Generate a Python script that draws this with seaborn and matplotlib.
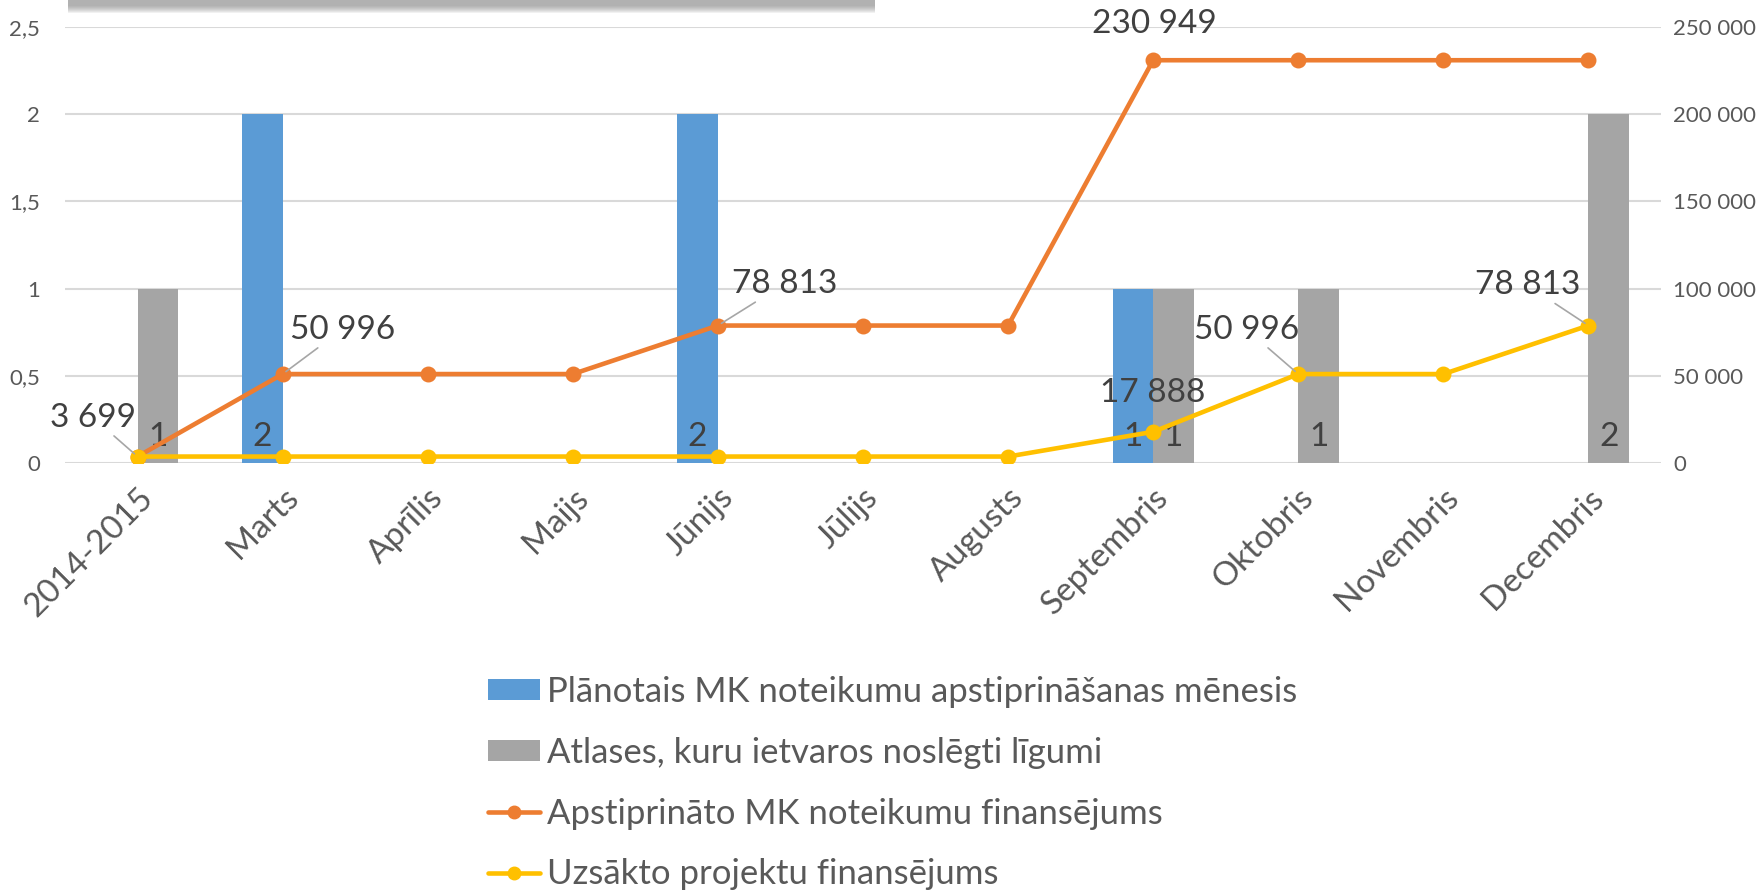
import numpy as np
import pandas as pd
import matplotlib
matplotlib.use("Agg")
import matplotlib.pyplot as plt
import seaborn as sns
from matplotlib.patches import Patch, Rectangle
from matplotlib.lines import Line2D
from matplotlib.ticker import FuncFormatter

# ---------------- data ----------------
categories = ["2014-2015", "Marts", "Aprīlis", "Maijs", "Jūnijs", "Jūlijs",
              "Augusts", "Septembris", "Oktobris", "Novembris", "Decembris"]
planned_months = [0, 2, 0, 0, 2, 0, 0, 1, 0, 0, 0]
signed_contracts = [1, 0, 0, 0, 0, 0, 0, 1, 1, 0, 2]
approved_funding = [3699, 50996, 50996, 50996, 78813, 78813, 78813,
                    230949, 230949, 230949, 230949]
started_funding = [3699, 3699, 3699, 3699, 3699, 3699, 3699,
                   17888, 50996, 50996, 78813]
series_names = ["Plānotais MK noteikumu apstiprināšanas mēnesis",
                "Atlases, kuru ietvaros noslēgti līgumi",
                "Apstiprināto MK noteikumu finansējums",
                "Uzsākto projektu finansējums"]
left_ticks = [0, 0.5, 1, 1.5, 2, 2.5]
right_ticks = [0, 50000, 100000, 150000, 200000, 250000]
# labelled line points (category indices)
approved_labels = [0, 1, 4, 7]
started_labels = [7, 8, 10]

# ---------------- style ----------------
sns.set_theme(style="white")
plt.rcParams["font.family"] = ["Lato", "DejaVu Sans"]
BLUE, GRAY, ORANGE, YELLOW = "#5B9BD5", "#A5A5A5", "#ED7D31", "#FFC000"
TXT = "#595959"
LBL = "#404040"
GRID = "#D9D9D9"

fig = plt.figure(figsize=(17.65, 8.9), dpi=100)
ax = fig.add_axes([65 / 1765, 1 - 463 / 890, 1596 / 1765, 436 / 890])

bars_df = pd.DataFrame({
    "cat": categories * 2,
    "val": planned_months + signed_contracts,
    "series": [series_names[0]] * len(categories) + [series_names[1]] * len(categories),
})
sns.barplot(data=bars_df, x="cat", y="val", hue="series",
            hue_order=series_names[:2], palette=[BLUE, GRAY],
            width=0.56, dodge=True, ax=ax, legend=False,
            linewidth=0, saturation=1, errorbar=None)

ax.set_ylim(0, 2.5)
ax.set_yticks(left_ticks)
ax.yaxis.set_major_formatter(FuncFormatter(lambda v, p: ("%g" % v).replace(".", ",")))
ax.grid(axis="y", color=GRID, linewidth=1.5)
ax.set_axisbelow(True)
for s in ax.spines.values():
    s.set_visible(False)
ax.set_xlabel("")
ax.set_ylabel("")
ax.tick_params(axis="y", length=0, pad=18, labelsize=16, labelcolor=TXT)
ax.tick_params(axis="x", length=0, pad=14, labelsize=24, labelcolor=TXT)
for t in ax.get_xticklabels():
    t.set_rotation(45)
    t.set_ha("right")
    t.set_rotation_mode("anchor")

# bar value labels at bar bottoms
for p in ax.patches:
    h = p.get_height()
    if h and h > 0:
        ax.annotate(f"{int(h)}", xy=(p.get_x() + p.get_width() / 2, 0),
                    xytext=(0, 8), textcoords="offset points",
                    ha="center", va="bottom", fontsize=24, color=LBL)

# ---------------- lines on secondary axis ----------------
ax2 = ax.twinx()
sns.pointplot(x=categories, y=approved_funding, color=ORANGE, ax=ax2,
              markers="o", markersize=9, linewidth=3.3, errorbar=None)
sns.pointplot(x=categories, y=started_funding, color=YELLOW, ax=ax2,
              markers="o", markersize=9, linewidth=3.3, errorbar=None)
ax2.set_ylim(0, 250000)
ax2.set_yticks(right_ticks)
ax2.yaxis.set_major_formatter(FuncFormatter(lambda v, p: f"{int(v):,}".replace(",", " ")))
ax2.tick_params(axis="y", length=0, pad=9, labelsize=16, labelcolor=TXT)
ax2.set_ylabel("")
ax2.grid(False)
for s in ax2.spines.values():
    s.set_visible(False)
ax.set_xlim(-0.5, len(categories) - 0.5)
ax2.set_xlim(-0.5, len(categories) - 0.5)


def fmt(v):
    return f"{int(v):,}".replace(",", " ")


# label offsets in points for each labelled point
approved_offsets = {0: (-32, 28, True), 1: (43, 32, True), 4: (48, 30, True), 7: (1, 26, False)}
started_offsets = {7: (0, 28, False), 8: (-37, 32, True), 10: (-44, 29, True)}

for vals, idxs, offs in [(approved_funding, approved_labels, approved_offsets),
                         (started_funding, started_labels, started_offsets)]:
    for i in idxs:
        dx, dy, leader = offs[i]
        kw = {}
        if leader:
            kw["arrowprops"] = dict(arrowstyle="-", color="#A6A6A6", lw=1.2,
                                    shrinkA=0, shrinkB=3)
        ax2.annotate(fmt(vals[i]), xy=(i, vals[i]), xytext=(dx, dy),
                     textcoords="offset points", ha="center", va="center",
                     fontsize=24, color=LBL, **kw)

# ---------------- legend ----------------
handles = [
    Patch(facecolor=BLUE, edgecolor="none"),
    Patch(facecolor=GRAY, edgecolor="none"),
    Line2D([], [], color=ORANGE, lw=3.3, marker="o", markersize=9),
    Line2D([], [], color=YELLOW, lw=3.3, marker="o", markersize=9),
]
fig.legend(handles, series_names, loc="upper left",
           bbox_to_anchor=(488 / 1765, 1 - 676 / 890), frameon=False,
           fontsize=25, labelcolor=TXT, handlelength=1.5, handleheight=0.55,
           handletextpad=0.2, labelspacing=0.83, borderaxespad=0, borderpad=0)

# cropped title box shadow remnant at top
for k in range(8):
    fig.patches.append(Rectangle((68 / 1765, 1 - (6 + k) / 890), 807 / 1765, (6 + k) / 890,
                                 transform=fig.transFigure, facecolor="#8C8C8C",
                                 edgecolor="none", alpha=0.12, zorder=5))

fig.savefig("out.png", dpi=100)
